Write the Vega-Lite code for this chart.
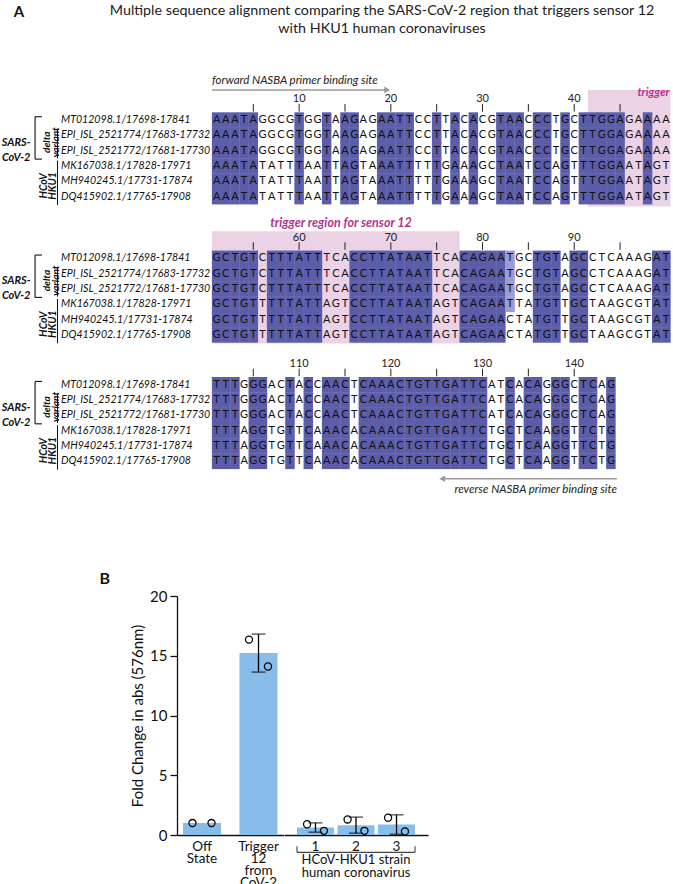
{
"$schema":"https://vega.github.io/schema/vega-lite/v6.json",
"background":"white",
"padding":{"left":1,"top":0,"right":0,"bottom":0},
"bounds":"flush",
"spacing":0,
"config":{"view":{"stroke":null},"font":"Lato"},
"datasets":{
"cells":[
{"p":1,"r":1,"n":"A"},{"p":2,"r":1,"n":"A"},{"p":3,"r":1,"n":"A"},{"p":4,"r":1,"n":"T"},{"p":5,"r":1,"n":"A"},{"p":6,"r":1,"n":"G"},{"p":7,"r":1,"n":"G"},{"p":8,"r":1,"n":"C"},{"p":9,"r":1,"n":"G"},{"p":10,"r":1,"n":"T"},
{"p":11,"r":1,"n":"G"},{"p":12,"r":1,"n":"G"},{"p":13,"r":1,"n":"T"},{"p":14,"r":1,"n":"A"},{"p":15,"r":1,"n":"A"},{"p":16,"r":1,"n":"G"},{"p":17,"r":1,"n":"A"},{"p":18,"r":1,"n":"G"},{"p":19,"r":1,"n":"A"},{"p":20,"r":1,"n":"A"},
{"p":21,"r":1,"n":"T"},{"p":22,"r":1,"n":"T"},{"p":23,"r":1,"n":"C"},{"p":24,"r":1,"n":"C"},{"p":25,"r":1,"n":"T"},{"p":26,"r":1,"n":"T"},{"p":27,"r":1,"n":"A"},{"p":28,"r":1,"n":"C"},{"p":29,"r":1,"n":"A"},{"p":30,"r":1,"n":"C"},
{"p":31,"r":1,"n":"G"},{"p":32,"r":1,"n":"T"},{"p":33,"r":1,"n":"A"},{"p":34,"r":1,"n":"A"},{"p":35,"r":1,"n":"C"},{"p":36,"r":1,"n":"C"},{"p":37,"r":1,"n":"C"},{"p":38,"r":1,"n":"T"},{"p":39,"r":1,"n":"G"},{"p":40,"r":1,"n":"C"},
{"p":41,"r":1,"n":"T"},{"p":42,"r":1,"n":"T"},{"p":43,"r":1,"n":"G"},{"p":44,"r":1,"n":"G"},{"p":45,"r":1,"n":"A"},{"p":46,"r":1,"n":"G"},{"p":47,"r":1,"n":"A"},{"p":48,"r":1,"n":"A"},{"p":49,"r":1,"n":"A"},{"p":50,"r":1,"n":"A"},
{"p":51,"r":1,"n":"G"},{"p":52,"r":1,"n":"C"},{"p":53,"r":1,"n":"T"},{"p":54,"r":1,"n":"G"},{"p":55,"r":1,"n":"T"},{"p":56,"r":1,"n":"C"},{"p":57,"r":1,"n":"T"},{"p":58,"r":1,"n":"T"},{"p":59,"r":1,"n":"T"},{"p":60,"r":1,"n":"A"},
{"p":61,"r":1,"n":"T"},{"p":62,"r":1,"n":"T"},{"p":63,"r":1,"n":"T"},{"p":64,"r":1,"n":"C"},{"p":65,"r":1,"n":"A"},{"p":66,"r":1,"n":"C"},{"p":67,"r":1,"n":"C"},{"p":68,"r":1,"n":"T"},{"p":69,"r":1,"n":"T"},{"p":70,"r":1,"n":"A"},
{"p":71,"r":1,"n":"T"},{"p":72,"r":1,"n":"A"},{"p":73,"r":1,"n":"A"},{"p":74,"r":1,"n":"T"},{"p":75,"r":1,"n":"T"},{"p":76,"r":1,"n":"C"},{"p":77,"r":1,"n":"A"},{"p":78,"r":1,"n":"C"},{"p":79,"r":1,"n":"A"},{"p":80,"r":1,"n":"G"},
{"p":81,"r":1,"n":"A"},{"p":82,"r":1,"n":"A"},{"p":83,"r":1,"n":"T"},{"p":84,"r":1,"n":"G"},{"p":85,"r":1,"n":"C"},{"p":86,"r":1,"n":"T"},{"p":87,"r":1,"n":"G"},{"p":88,"r":1,"n":"T"},{"p":89,"r":1,"n":"A"},{"p":90,"r":1,"n":"G"},
{"p":91,"r":1,"n":"C"},{"p":92,"r":1,"n":"C"},{"p":93,"r":1,"n":"T"},{"p":94,"r":1,"n":"C"},{"p":95,"r":1,"n":"A"},{"p":96,"r":1,"n":"A"},{"p":97,"r":1,"n":"A"},{"p":98,"r":1,"n":"G"},{"p":99,"r":1,"n":"A"},{"p":100,"r":1,"n":"T"},
{"p":101,"r":1,"n":"T"},{"p":102,"r":1,"n":"T"},{"p":103,"r":1,"n":"T"},{"p":104,"r":1,"n":"G"},{"p":105,"r":1,"n":"G"},{"p":106,"r":1,"n":"G"},{"p":107,"r":1,"n":"A"},{"p":108,"r":1,"n":"C"},{"p":109,"r":1,"n":"T"},{"p":110,"r":1,"n":"A"},
{"p":111,"r":1,"n":"C"},{"p":112,"r":1,"n":"C"},{"p":113,"r":1,"n":"A"},{"p":114,"r":1,"n":"A"},{"p":115,"r":1,"n":"C"},{"p":116,"r":1,"n":"T"},{"p":117,"r":1,"n":"C"},{"p":118,"r":1,"n":"A"},{"p":119,"r":1,"n":"A"},{"p":120,"r":1,"n":"A"},
{"p":121,"r":1,"n":"C"},{"p":122,"r":1,"n":"T"},{"p":123,"r":1,"n":"G"},{"p":124,"r":1,"n":"T"},{"p":125,"r":1,"n":"T"},{"p":126,"r":1,"n":"G"},{"p":127,"r":1,"n":"A"},{"p":128,"r":1,"n":"T"},{"p":129,"r":1,"n":"T"},{"p":130,"r":1,"n":"C"},
{"p":131,"r":1,"n":"A"},{"p":132,"r":1,"n":"T"},{"p":133,"r":1,"n":"C"},{"p":134,"r":1,"n":"A"},{"p":135,"r":1,"n":"C"},{"p":136,"r":1,"n":"A"},{"p":137,"r":1,"n":"G"},{"p":138,"r":1,"n":"G"},{"p":139,"r":1,"n":"G"},{"p":140,"r":1,"n":"C"},
{"p":141,"r":1,"n":"T"},{"p":142,"r":1,"n":"C"},{"p":143,"r":1,"n":"A"},{"p":144,"r":1,"n":"G"},
{"p":1,"r":2,"n":"A"},{"p":2,"r":2,"n":"A"},{"p":3,"r":2,"n":"A"},{"p":4,"r":2,"n":"T"},{"p":5,"r":2,"n":"A"},{"p":6,"r":2,"n":"G"},{"p":7,"r":2,"n":"G"},{"p":8,"r":2,"n":"C"},{"p":9,"r":2,"n":"G"},{"p":10,"r":2,"n":"T"},
{"p":11,"r":2,"n":"G"},{"p":12,"r":2,"n":"G"},{"p":13,"r":2,"n":"T"},{"p":14,"r":2,"n":"A"},{"p":15,"r":2,"n":"A"},{"p":16,"r":2,"n":"G"},{"p":17,"r":2,"n":"A"},{"p":18,"r":2,"n":"G"},{"p":19,"r":2,"n":"A"},{"p":20,"r":2,"n":"A"},
{"p":21,"r":2,"n":"T"},{"p":22,"r":2,"n":"T"},{"p":23,"r":2,"n":"C"},{"p":24,"r":2,"n":"C"},{"p":25,"r":2,"n":"T"},{"p":26,"r":2,"n":"T"},{"p":27,"r":2,"n":"A"},{"p":28,"r":2,"n":"C"},{"p":29,"r":2,"n":"A"},{"p":30,"r":2,"n":"C"},
{"p":31,"r":2,"n":"G"},{"p":32,"r":2,"n":"T"},{"p":33,"r":2,"n":"A"},{"p":34,"r":2,"n":"A"},{"p":35,"r":2,"n":"C"},{"p":36,"r":2,"n":"C"},{"p":37,"r":2,"n":"C"},{"p":38,"r":2,"n":"T"},{"p":39,"r":2,"n":"G"},{"p":40,"r":2,"n":"C"},
{"p":41,"r":2,"n":"T"},{"p":42,"r":2,"n":"T"},{"p":43,"r":2,"n":"G"},{"p":44,"r":2,"n":"G"},{"p":45,"r":2,"n":"A"},{"p":46,"r":2,"n":"G"},{"p":47,"r":2,"n":"A"},{"p":48,"r":2,"n":"A"},{"p":49,"r":2,"n":"A"},{"p":50,"r":2,"n":"A"},
{"p":51,"r":2,"n":"G"},{"p":52,"r":2,"n":"C"},{"p":53,"r":2,"n":"T"},{"p":54,"r":2,"n":"G"},{"p":55,"r":2,"n":"T"},{"p":56,"r":2,"n":"C"},{"p":57,"r":2,"n":"T"},{"p":58,"r":2,"n":"T"},{"p":59,"r":2,"n":"T"},{"p":60,"r":2,"n":"A"},
{"p":61,"r":2,"n":"T"},{"p":62,"r":2,"n":"T"},{"p":63,"r":2,"n":"T"},{"p":64,"r":2,"n":"C"},{"p":65,"r":2,"n":"A"},{"p":66,"r":2,"n":"C"},{"p":67,"r":2,"n":"C"},{"p":68,"r":2,"n":"T"},{"p":69,"r":2,"n":"T"},{"p":70,"r":2,"n":"A"},
{"p":71,"r":2,"n":"T"},{"p":72,"r":2,"n":"A"},{"p":73,"r":2,"n":"A"},{"p":74,"r":2,"n":"T"},{"p":75,"r":2,"n":"T"},{"p":76,"r":2,"n":"C"},{"p":77,"r":2,"n":"A"},{"p":78,"r":2,"n":"C"},{"p":79,"r":2,"n":"A"},{"p":80,"r":2,"n":"G"},
{"p":81,"r":2,"n":"A"},{"p":82,"r":2,"n":"A"},{"p":83,"r":2,"n":"T"},{"p":84,"r":2,"n":"G"},{"p":85,"r":2,"n":"C"},{"p":86,"r":2,"n":"T"},{"p":87,"r":2,"n":"G"},{"p":88,"r":2,"n":"T"},{"p":89,"r":2,"n":"A"},{"p":90,"r":2,"n":"G"},
{"p":91,"r":2,"n":"C"},{"p":92,"r":2,"n":"C"},{"p":93,"r":2,"n":"T"},{"p":94,"r":2,"n":"C"},{"p":95,"r":2,"n":"A"},{"p":96,"r":2,"n":"A"},{"p":97,"r":2,"n":"A"},{"p":98,"r":2,"n":"G"},{"p":99,"r":2,"n":"A"},{"p":100,"r":2,"n":"T"},
{"p":101,"r":2,"n":"T"},{"p":102,"r":2,"n":"T"},{"p":103,"r":2,"n":"T"},{"p":104,"r":2,"n":"G"},{"p":105,"r":2,"n":"G"},{"p":106,"r":2,"n":"G"},{"p":107,"r":2,"n":"A"},{"p":108,"r":2,"n":"C"},{"p":109,"r":2,"n":"T"},{"p":110,"r":2,"n":"A"},
{"p":111,"r":2,"n":"C"},{"p":112,"r":2,"n":"C"},{"p":113,"r":2,"n":"A"},{"p":114,"r":2,"n":"A"},{"p":115,"r":2,"n":"C"},{"p":116,"r":2,"n":"T"},{"p":117,"r":2,"n":"C"},{"p":118,"r":2,"n":"A"},{"p":119,"r":2,"n":"A"},{"p":120,"r":2,"n":"A"},
{"p":121,"r":2,"n":"C"},{"p":122,"r":2,"n":"T"},{"p":123,"r":2,"n":"G"},{"p":124,"r":2,"n":"T"},{"p":125,"r":2,"n":"T"},{"p":126,"r":2,"n":"G"},{"p":127,"r":2,"n":"A"},{"p":128,"r":2,"n":"T"},{"p":129,"r":2,"n":"T"},{"p":130,"r":2,"n":"C"},
{"p":131,"r":2,"n":"A"},{"p":132,"r":2,"n":"T"},{"p":133,"r":2,"n":"C"},{"p":134,"r":2,"n":"A"},{"p":135,"r":2,"n":"C"},{"p":136,"r":2,"n":"A"},{"p":137,"r":2,"n":"G"},{"p":138,"r":2,"n":"G"},{"p":139,"r":2,"n":"G"},{"p":140,"r":2,"n":"C"},
{"p":141,"r":2,"n":"T"},{"p":142,"r":2,"n":"C"},{"p":143,"r":2,"n":"A"},{"p":144,"r":2,"n":"G"},
{"p":1,"r":3,"n":"A"},{"p":2,"r":3,"n":"A"},{"p":3,"r":3,"n":"A"},{"p":4,"r":3,"n":"T"},{"p":5,"r":3,"n":"A"},{"p":6,"r":3,"n":"G"},{"p":7,"r":3,"n":"G"},{"p":8,"r":3,"n":"C"},{"p":9,"r":3,"n":"G"},{"p":10,"r":3,"n":"T"},
{"p":11,"r":3,"n":"G"},{"p":12,"r":3,"n":"G"},{"p":13,"r":3,"n":"T"},{"p":14,"r":3,"n":"A"},{"p":15,"r":3,"n":"A"},{"p":16,"r":3,"n":"G"},{"p":17,"r":3,"n":"A"},{"p":18,"r":3,"n":"G"},{"p":19,"r":3,"n":"A"},{"p":20,"r":3,"n":"A"},
{"p":21,"r":3,"n":"T"},{"p":22,"r":3,"n":"T"},{"p":23,"r":3,"n":"C"},{"p":24,"r":3,"n":"C"},{"p":25,"r":3,"n":"T"},{"p":26,"r":3,"n":"T"},{"p":27,"r":3,"n":"A"},{"p":28,"r":3,"n":"C"},{"p":29,"r":3,"n":"A"},{"p":30,"r":3,"n":"C"},
{"p":31,"r":3,"n":"G"},{"p":32,"r":3,"n":"T"},{"p":33,"r":3,"n":"A"},{"p":34,"r":3,"n":"A"},{"p":35,"r":3,"n":"C"},{"p":36,"r":3,"n":"C"},{"p":37,"r":3,"n":"C"},{"p":38,"r":3,"n":"T"},{"p":39,"r":3,"n":"G"},{"p":40,"r":3,"n":"C"},
{"p":41,"r":3,"n":"T"},{"p":42,"r":3,"n":"T"},{"p":43,"r":3,"n":"G"},{"p":44,"r":3,"n":"G"},{"p":45,"r":3,"n":"A"},{"p":46,"r":3,"n":"G"},{"p":47,"r":3,"n":"A"},{"p":48,"r":3,"n":"A"},{"p":49,"r":3,"n":"A"},{"p":50,"r":3,"n":"A"},
{"p":51,"r":3,"n":"G"},{"p":52,"r":3,"n":"C"},{"p":53,"r":3,"n":"T"},{"p":54,"r":3,"n":"G"},{"p":55,"r":3,"n":"T"},{"p":56,"r":3,"n":"C"},{"p":57,"r":3,"n":"T"},{"p":58,"r":3,"n":"T"},{"p":59,"r":3,"n":"T"},{"p":60,"r":3,"n":"A"},
{"p":61,"r":3,"n":"T"},{"p":62,"r":3,"n":"T"},{"p":63,"r":3,"n":"T"},{"p":64,"r":3,"n":"C"},{"p":65,"r":3,"n":"A"},{"p":66,"r":3,"n":"C"},{"p":67,"r":3,"n":"C"},{"p":68,"r":3,"n":"T"},{"p":69,"r":3,"n":"T"},{"p":70,"r":3,"n":"A"},
{"p":71,"r":3,"n":"T"},{"p":72,"r":3,"n":"A"},{"p":73,"r":3,"n":"A"},{"p":74,"r":3,"n":"T"},{"p":75,"r":3,"n":"T"},{"p":76,"r":3,"n":"C"},{"p":77,"r":3,"n":"A"},{"p":78,"r":3,"n":"C"},{"p":79,"r":3,"n":"A"},{"p":80,"r":3,"n":"G"},
{"p":81,"r":3,"n":"A"},{"p":82,"r":3,"n":"A"},{"p":83,"r":3,"n":"T"},{"p":84,"r":3,"n":"G"},{"p":85,"r":3,"n":"C"},{"p":86,"r":3,"n":"T"},{"p":87,"r":3,"n":"G"},{"p":88,"r":3,"n":"T"},{"p":89,"r":3,"n":"A"},{"p":90,"r":3,"n":"G"},
{"p":91,"r":3,"n":"C"},{"p":92,"r":3,"n":"C"},{"p":93,"r":3,"n":"T"},{"p":94,"r":3,"n":"C"},{"p":95,"r":3,"n":"A"},{"p":96,"r":3,"n":"A"},{"p":97,"r":3,"n":"A"},{"p":98,"r":3,"n":"G"},{"p":99,"r":3,"n":"A"},{"p":100,"r":3,"n":"T"},
{"p":101,"r":3,"n":"T"},{"p":102,"r":3,"n":"T"},{"p":103,"r":3,"n":"T"},{"p":104,"r":3,"n":"G"},{"p":105,"r":3,"n":"G"},{"p":106,"r":3,"n":"G"},{"p":107,"r":3,"n":"A"},{"p":108,"r":3,"n":"C"},{"p":109,"r":3,"n":"T"},{"p":110,"r":3,"n":"A"},
{"p":111,"r":3,"n":"C"},{"p":112,"r":3,"n":"C"},{"p":113,"r":3,"n":"A"},{"p":114,"r":3,"n":"A"},{"p":115,"r":3,"n":"C"},{"p":116,"r":3,"n":"T"},{"p":117,"r":3,"n":"C"},{"p":118,"r":3,"n":"A"},{"p":119,"r":3,"n":"A"},{"p":120,"r":3,"n":"A"},
{"p":121,"r":3,"n":"C"},{"p":122,"r":3,"n":"T"},{"p":123,"r":3,"n":"G"},{"p":124,"r":3,"n":"T"},{"p":125,"r":3,"n":"T"},{"p":126,"r":3,"n":"G"},{"p":127,"r":3,"n":"A"},{"p":128,"r":3,"n":"T"},{"p":129,"r":3,"n":"T"},{"p":130,"r":3,"n":"C"},
{"p":131,"r":3,"n":"A"},{"p":132,"r":3,"n":"T"},{"p":133,"r":3,"n":"C"},{"p":134,"r":3,"n":"A"},{"p":135,"r":3,"n":"C"},{"p":136,"r":3,"n":"A"},{"p":137,"r":3,"n":"G"},{"p":138,"r":3,"n":"G"},{"p":139,"r":3,"n":"G"},{"p":140,"r":3,"n":"C"},
{"p":141,"r":3,"n":"T"},{"p":142,"r":3,"n":"C"},{"p":143,"r":3,"n":"A"},{"p":144,"r":3,"n":"G"},
{"p":1,"r":4,"n":"A"},{"p":2,"r":4,"n":"A"},{"p":3,"r":4,"n":"A"},{"p":4,"r":4,"n":"T"},{"p":5,"r":4,"n":"A"},{"p":6,"r":4,"n":"T"},{"p":7,"r":4,"n":"A"},{"p":8,"r":4,"n":"T"},{"p":9,"r":4,"n":"T"},{"p":10,"r":4,"n":"T"},
{"p":11,"r":4,"n":"A"},{"p":12,"r":4,"n":"A"},{"p":13,"r":4,"n":"T"},{"p":14,"r":4,"n":"T"},{"p":15,"r":4,"n":"A"},{"p":16,"r":4,"n":"G"},{"p":17,"r":4,"n":"T"},{"p":18,"r":4,"n":"A"},{"p":19,"r":4,"n":"A"},{"p":20,"r":4,"n":"A"},
{"p":21,"r":4,"n":"T"},{"p":22,"r":4,"n":"T"},{"p":23,"r":4,"n":"T"},{"p":24,"r":4,"n":"T"},{"p":25,"r":4,"n":"T"},{"p":26,"r":4,"n":"G"},{"p":27,"r":4,"n":"A"},{"p":28,"r":4,"n":"A"},{"p":29,"r":4,"n":"A"},{"p":30,"r":4,"n":"G"},
{"p":31,"r":4,"n":"C"},{"p":32,"r":4,"n":"T"},{"p":33,"r":4,"n":"A"},{"p":34,"r":4,"n":"A"},{"p":35,"r":4,"n":"T"},{"p":36,"r":4,"n":"C"},{"p":37,"r":4,"n":"C"},{"p":38,"r":4,"n":"A"},{"p":39,"r":4,"n":"G"},{"p":40,"r":4,"n":"T"},
{"p":41,"r":4,"n":"T"},{"p":42,"r":4,"n":"T"},{"p":43,"r":4,"n":"G"},{"p":44,"r":4,"n":"G"},{"p":45,"r":4,"n":"A"},{"p":46,"r":4,"n":"A"},{"p":47,"r":4,"n":"T"},{"p":48,"r":4,"n":"A"},{"p":49,"r":4,"n":"G"},{"p":50,"r":4,"n":"T"},
{"p":51,"r":4,"n":"G"},{"p":52,"r":4,"n":"C"},{"p":53,"r":4,"n":"T"},{"p":54,"r":4,"n":"G"},{"p":55,"r":4,"n":"T"},{"p":56,"r":4,"n":"T"},{"p":57,"r":4,"n":"T"},{"p":58,"r":4,"n":"T"},{"p":59,"r":4,"n":"T"},{"p":60,"r":4,"n":"A"},
{"p":61,"r":4,"n":"T"},{"p":62,"r":4,"n":"T"},{"p":63,"r":4,"n":"A"},{"p":64,"r":4,"n":"G"},{"p":65,"r":4,"n":"T"},{"p":66,"r":4,"n":"C"},{"p":67,"r":4,"n":"C"},{"p":68,"r":4,"n":"T"},{"p":69,"r":4,"n":"T"},{"p":70,"r":4,"n":"A"},
{"p":71,"r":4,"n":"T"},{"p":72,"r":4,"n":"A"},{"p":73,"r":4,"n":"A"},{"p":74,"r":4,"n":"T"},{"p":75,"r":4,"n":"A"},{"p":76,"r":4,"n":"G"},{"p":77,"r":4,"n":"T"},{"p":78,"r":4,"n":"C"},{"p":79,"r":4,"n":"A"},{"p":80,"r":4,"n":"G"},
{"p":81,"r":4,"n":"A"},{"p":82,"r":4,"n":"A"},{"p":83,"r":4,"n":"T"},{"p":84,"r":4,"n":"T"},{"p":85,"r":4,"n":"A"},{"p":86,"r":4,"n":"T"},{"p":87,"r":4,"n":"G"},{"p":88,"r":4,"n":"T"},{"p":89,"r":4,"n":"T"},{"p":90,"r":4,"n":"G"},
{"p":91,"r":4,"n":"C"},{"p":92,"r":4,"n":"T"},{"p":93,"r":4,"n":"A"},{"p":94,"r":4,"n":"A"},{"p":95,"r":4,"n":"G"},{"p":96,"r":4,"n":"C"},{"p":97,"r":4,"n":"G"},{"p":98,"r":4,"n":"T"},{"p":99,"r":4,"n":"A"},{"p":100,"r":4,"n":"T"},
{"p":101,"r":4,"n":"T"},{"p":102,"r":4,"n":"T"},{"p":103,"r":4,"n":"T"},{"p":104,"r":4,"n":"A"},{"p":105,"r":4,"n":"G"},{"p":106,"r":4,"n":"G"},{"p":107,"r":4,"n":"T"},{"p":108,"r":4,"n":"G"},{"p":109,"r":4,"n":"T"},{"p":110,"r":4,"n":"T"},
{"p":111,"r":4,"n":"C"},{"p":112,"r":4,"n":"A"},{"p":113,"r":4,"n":"A"},{"p":114,"r":4,"n":"A"},{"p":115,"r":4,"n":"C"},{"p":116,"r":4,"n":"A"},{"p":117,"r":4,"n":"C"},{"p":118,"r":4,"n":"A"},{"p":119,"r":4,"n":"A"},{"p":120,"r":4,"n":"A"},
{"p":121,"r":4,"n":"C"},{"p":122,"r":4,"n":"T"},{"p":123,"r":4,"n":"G"},{"p":124,"r":4,"n":"T"},{"p":125,"r":4,"n":"T"},{"p":126,"r":4,"n":"G"},{"p":127,"r":4,"n":"A"},{"p":128,"r":4,"n":"T"},{"p":129,"r":4,"n":"T"},{"p":130,"r":4,"n":"C"},
{"p":131,"r":4,"n":"T"},{"p":132,"r":4,"n":"G"},{"p":133,"r":4,"n":"C"},{"p":134,"r":4,"n":"T"},{"p":135,"r":4,"n":"C"},{"p":136,"r":4,"n":"A"},{"p":137,"r":4,"n":"A"},{"p":138,"r":4,"n":"G"},{"p":139,"r":4,"n":"G"},{"p":140,"r":4,"n":"T"},
{"p":141,"r":4,"n":"T"},{"p":142,"r":4,"n":"C"},{"p":143,"r":4,"n":"T"},{"p":144,"r":4,"n":"G"},
{"p":1,"r":5,"n":"A"},{"p":2,"r":5,"n":"A"},{"p":3,"r":5,"n":"A"},{"p":4,"r":5,"n":"T"},{"p":5,"r":5,"n":"A"},{"p":6,"r":5,"n":"T"},{"p":7,"r":5,"n":"A"},{"p":8,"r":5,"n":"T"},{"p":9,"r":5,"n":"T"},{"p":10,"r":5,"n":"T"},
{"p":11,"r":5,"n":"A"},{"p":12,"r":5,"n":"A"},{"p":13,"r":5,"n":"T"},{"p":14,"r":5,"n":"T"},{"p":15,"r":5,"n":"A"},{"p":16,"r":5,"n":"G"},{"p":17,"r":5,"n":"T"},{"p":18,"r":5,"n":"A"},{"p":19,"r":5,"n":"A"},{"p":20,"r":5,"n":"A"},
{"p":21,"r":5,"n":"T"},{"p":22,"r":5,"n":"T"},{"p":23,"r":5,"n":"T"},{"p":24,"r":5,"n":"T"},{"p":25,"r":5,"n":"T"},{"p":26,"r":5,"n":"G"},{"p":27,"r":5,"n":"A"},{"p":28,"r":5,"n":"A"},{"p":29,"r":5,"n":"A"},{"p":30,"r":5,"n":"G"},
{"p":31,"r":5,"n":"C"},{"p":32,"r":5,"n":"T"},{"p":33,"r":5,"n":"A"},{"p":34,"r":5,"n":"A"},{"p":35,"r":5,"n":"T"},{"p":36,"r":5,"n":"C"},{"p":37,"r":5,"n":"C"},{"p":38,"r":5,"n":"A"},{"p":39,"r":5,"n":"G"},{"p":40,"r":5,"n":"T"},
{"p":41,"r":5,"n":"T"},{"p":42,"r":5,"n":"T"},{"p":43,"r":5,"n":"G"},{"p":44,"r":5,"n":"G"},{"p":45,"r":5,"n":"A"},{"p":46,"r":5,"n":"A"},{"p":47,"r":5,"n":"T"},{"p":48,"r":5,"n":"A"},{"p":49,"r":5,"n":"G"},{"p":50,"r":5,"n":"T"},
{"p":51,"r":5,"n":"G"},{"p":52,"r":5,"n":"C"},{"p":53,"r":5,"n":"T"},{"p":54,"r":5,"n":"G"},{"p":55,"r":5,"n":"T"},{"p":56,"r":5,"n":"T"},{"p":57,"r":5,"n":"T"},{"p":58,"r":5,"n":"T"},{"p":59,"r":5,"n":"T"},{"p":60,"r":5,"n":"A"},
{"p":61,"r":5,"n":"T"},{"p":62,"r":5,"n":"T"},{"p":63,"r":5,"n":"A"},{"p":64,"r":5,"n":"G"},{"p":65,"r":5,"n":"T"},{"p":66,"r":5,"n":"C"},{"p":67,"r":5,"n":"C"},{"p":68,"r":5,"n":"T"},{"p":69,"r":5,"n":"T"},{"p":70,"r":5,"n":"A"},
{"p":71,"r":5,"n":"T"},{"p":72,"r":5,"n":"A"},{"p":73,"r":5,"n":"A"},{"p":74,"r":5,"n":"T"},{"p":75,"r":5,"n":"A"},{"p":76,"r":5,"n":"G"},{"p":77,"r":5,"n":"T"},{"p":78,"r":5,"n":"C"},{"p":79,"r":5,"n":"A"},{"p":80,"r":5,"n":"G"},
{"p":81,"r":5,"n":"A"},{"p":82,"r":5,"n":"A"},{"p":83,"r":5,"n":"C"},{"p":84,"r":5,"n":"T"},{"p":85,"r":5,"n":"A"},{"p":86,"r":5,"n":"T"},{"p":87,"r":5,"n":"G"},{"p":88,"r":5,"n":"T"},{"p":89,"r":5,"n":"T"},{"p":90,"r":5,"n":"G"},
{"p":91,"r":5,"n":"C"},{"p":92,"r":5,"n":"T"},{"p":93,"r":5,"n":"A"},{"p":94,"r":5,"n":"A"},{"p":95,"r":5,"n":"G"},{"p":96,"r":5,"n":"C"},{"p":97,"r":5,"n":"G"},{"p":98,"r":5,"n":"T"},{"p":99,"r":5,"n":"A"},{"p":100,"r":5,"n":"T"},
{"p":101,"r":5,"n":"T"},{"p":102,"r":5,"n":"T"},{"p":103,"r":5,"n":"T"},{"p":104,"r":5,"n":"A"},{"p":105,"r":5,"n":"G"},{"p":106,"r":5,"n":"G"},{"p":107,"r":5,"n":"T"},{"p":108,"r":5,"n":"G"},{"p":109,"r":5,"n":"T"},{"p":110,"r":5,"n":"T"},
{"p":111,"r":5,"n":"C"},{"p":112,"r":5,"n":"A"},{"p":113,"r":5,"n":"A"},{"p":114,"r":5,"n":"A"},{"p":115,"r":5,"n":"C"},{"p":116,"r":5,"n":"A"},{"p":117,"r":5,"n":"C"},{"p":118,"r":5,"n":"A"},{"p":119,"r":5,"n":"A"},{"p":120,"r":5,"n":"A"},
{"p":121,"r":5,"n":"C"},{"p":122,"r":5,"n":"T"},{"p":123,"r":5,"n":"G"},{"p":124,"r":5,"n":"T"},{"p":125,"r":5,"n":"T"},{"p":126,"r":5,"n":"G"},{"p":127,"r":5,"n":"A"},{"p":128,"r":5,"n":"T"},{"p":129,"r":5,"n":"T"},{"p":130,"r":5,"n":"C"},
{"p":131,"r":5,"n":"T"},{"p":132,"r":5,"n":"G"},{"p":133,"r":5,"n":"C"},{"p":134,"r":5,"n":"T"},{"p":135,"r":5,"n":"C"},{"p":136,"r":5,"n":"A"},{"p":137,"r":5,"n":"A"},{"p":138,"r":5,"n":"G"},{"p":139,"r":5,"n":"G"},{"p":140,"r":5,"n":"T"},
{"p":141,"r":5,"n":"T"},{"p":142,"r":5,"n":"C"},{"p":143,"r":5,"n":"T"},{"p":144,"r":5,"n":"G"},
{"p":1,"r":6,"n":"A"},{"p":2,"r":6,"n":"A"},{"p":3,"r":6,"n":"A"},{"p":4,"r":6,"n":"T"},{"p":5,"r":6,"n":"A"},{"p":6,"r":6,"n":"T"},{"p":7,"r":6,"n":"A"},{"p":8,"r":6,"n":"T"},{"p":9,"r":6,"n":"T"},{"p":10,"r":6,"n":"T"},
{"p":11,"r":6,"n":"A"},{"p":12,"r":6,"n":"A"},{"p":13,"r":6,"n":"T"},{"p":14,"r":6,"n":"T"},{"p":15,"r":6,"n":"A"},{"p":16,"r":6,"n":"G"},{"p":17,"r":6,"n":"T"},{"p":18,"r":6,"n":"A"},{"p":19,"r":6,"n":"A"},{"p":20,"r":6,"n":"A"},
{"p":21,"r":6,"n":"T"},{"p":22,"r":6,"n":"T"},{"p":23,"r":6,"n":"T"},{"p":24,"r":6,"n":"T"},{"p":25,"r":6,"n":"T"},{"p":26,"r":6,"n":"G"},{"p":27,"r":6,"n":"A"},{"p":28,"r":6,"n":"A"},{"p":29,"r":6,"n":"A"},{"p":30,"r":6,"n":"G"},
{"p":31,"r":6,"n":"C"},{"p":32,"r":6,"n":"T"},{"p":33,"r":6,"n":"A"},{"p":34,"r":6,"n":"A"},{"p":35,"r":6,"n":"T"},{"p":36,"r":6,"n":"C"},{"p":37,"r":6,"n":"C"},{"p":38,"r":6,"n":"A"},{"p":39,"r":6,"n":"G"},{"p":40,"r":6,"n":"T"},
{"p":41,"r":6,"n":"T"},{"p":42,"r":6,"n":"T"},{"p":43,"r":6,"n":"G"},{"p":44,"r":6,"n":"G"},{"p":45,"r":6,"n":"A"},{"p":46,"r":6,"n":"A"},{"p":47,"r":6,"n":"T"},{"p":48,"r":6,"n":"A"},{"p":49,"r":6,"n":"G"},{"p":50,"r":6,"n":"T"},
{"p":51,"r":6,"n":"G"},{"p":52,"r":6,"n":"C"},{"p":53,"r":6,"n":"T"},{"p":54,"r":6,"n":"G"},{"p":55,"r":6,"n":"T"},{"p":56,"r":6,"n":"T"},{"p":57,"r":6,"n":"T"},{"p":58,"r":6,"n":"T"},{"p":59,"r":6,"n":"T"},{"p":60,"r":6,"n":"A"},
{"p":61,"r":6,"n":"T"},{"p":62,"r":6,"n":"T"},{"p":63,"r":6,"n":"A"},{"p":64,"r":6,"n":"G"},{"p":65,"r":6,"n":"T"},{"p":66,"r":6,"n":"C"},{"p":67,"r":6,"n":"C"},{"p":68,"r":6,"n":"T"},{"p":69,"r":6,"n":"T"},{"p":70,"r":6,"n":"A"},
{"p":71,"r":6,"n":"T"},{"p":72,"r":6,"n":"A"},{"p":73,"r":6,"n":"A"},{"p":74,"r":6,"n":"T"},{"p":75,"r":6,"n":"A"},{"p":76,"r":6,"n":"G"},{"p":77,"r":6,"n":"T"},{"p":78,"r":6,"n":"C"},{"p":79,"r":6,"n":"A"},{"p":80,"r":6,"n":"G"},
{"p":81,"r":6,"n":"A"},{"p":82,"r":6,"n":"A"},{"p":83,"r":6,"n":"C"},{"p":84,"r":6,"n":"T"},{"p":85,"r":6,"n":"A"},{"p":86,"r":6,"n":"T"},{"p":87,"r":6,"n":"G"},{"p":88,"r":6,"n":"T"},{"p":89,"r":6,"n":"T"},{"p":90,"r":6,"n":"G"},
{"p":91,"r":6,"n":"C"},{"p":92,"r":6,"n":"T"},{"p":93,"r":6,"n":"A"},{"p":94,"r":6,"n":"A"},{"p":95,"r":6,"n":"G"},{"p":96,"r":6,"n":"C"},{"p":97,"r":6,"n":"G"},{"p":98,"r":6,"n":"T"},{"p":99,"r":6,"n":"A"},{"p":100,"r":6,"n":"T"},
{"p":101,"r":6,"n":"T"},{"p":102,"r":6,"n":"T"},{"p":103,"r":6,"n":"T"},{"p":104,"r":6,"n":"A"},{"p":105,"r":6,"n":"G"},{"p":106,"r":6,"n":"G"},{"p":107,"r":6,"n":"T"},{"p":108,"r":6,"n":"G"},{"p":109,"r":6,"n":"T"},{"p":110,"r":6,"n":"T"},
{"p":111,"r":6,"n":"C"},{"p":112,"r":6,"n":"A"},{"p":113,"r":6,"n":"A"},{"p":114,"r":6,"n":"A"},{"p":115,"r":6,"n":"C"},{"p":116,"r":6,"n":"A"},{"p":117,"r":6,"n":"C"},{"p":118,"r":6,"n":"A"},{"p":119,"r":6,"n":"A"},{"p":120,"r":6,"n":"A"},
{"p":121,"r":6,"n":"C"},{"p":122,"r":6,"n":"T"},{"p":123,"r":6,"n":"G"},{"p":124,"r":6,"n":"T"},{"p":125,"r":6,"n":"T"},{"p":126,"r":6,"n":"G"},{"p":127,"r":6,"n":"A"},{"p":128,"r":6,"n":"T"},{"p":129,"r":6,"n":"T"},{"p":130,"r":6,"n":"C"},
{"p":131,"r":6,"n":"T"},{"p":132,"r":6,"n":"G"},{"p":133,"r":6,"n":"C"},{"p":134,"r":6,"n":"T"},{"p":135,"r":6,"n":"C"},{"p":136,"r":6,"n":"A"},{"p":137,"r":6,"n":"A"},{"p":138,"r":6,"n":"G"},{"p":139,"r":6,"n":"G"},{"p":140,"r":6,"n":"T"},
{"p":141,"r":6,"n":"T"},{"p":142,"r":6,"n":"C"},{"p":143,"r":6,"n":"T"},{"p":144,"r":6,"n":"G"}
],
"ticks":[{"p":5},{"p":10},{"p":15},{"p":20},{"p":25},{"p":30},{"p":35},{"p":40},{"p":45},{"p":55},{"p":60},{"p":65},{"p":70},{"p":75},{"p":80},{"p":85},{"p":90},{"p":95},{"p":105},{"p":110},{"p":115},{"p":120},{"p":125},{"p":130},{"p":135},{"p":140}],
"names":[{"r":1,"name":"MT012098.1/17698-17841"},{"r":2,"name":"EPI_ISL_2521774/17683-17732"},{"r":3,"name":"EPI_ISL_2521772/17681-17730"},{"r":4,"name":"MK167038.1/17828-17971"},{"r":5,"name":"MH940245.1/17731-17874"},{"r":6,"name":"DQ415902.1/17765-17908"}],
"fold":[{"g":"Off State","rep":"a","v":1.0},{"g":"Off State","rep":"b","v":1.0},{"g":"Trigger 12 from CoV-2","rep":"a","v":16.35},{"g":"Trigger 12 from CoV-2","rep":"b","v":14.1},{"g":"1","rep":"a","v":0.9},{"g":"1","rep":"b","v":0.35},{"g":"2","rep":"a","v":1.3},{"g":"2","rep":"b","v":0.35},{"g":"3","rep":"a","v":1.45},{"g":"3","rep":"b","v":0.3}]
},
"vconcat":[
{"width":493.5,"height":209.61,
"layer":[
{"data":{"values":[{}]},"mark":{"type":"rect","color":"#ebd3e5"},"encoding":{"x":{"datum":41.5,"type":"quantitative","scale":{"domain":[-3.32,50.5],"nice":false,"zero":false},"axis":null},"x2":{"datum":50.5},"y":{"datum":-0.97,"type":"quantitative","scale":{"domain":[-6.85,6.85],"nice":false,"zero":false,"reverse":true},"axis":null},"y2":{"datum":6.65}}},
{"data":{"name":"cells"},"transform":[{"filter":"datum.p >= 1 && datum.p <= 50"},{"joinaggregate":[{"op":"distinct","field":"n","as":"nd"}],"groupby":["p"]},{"joinaggregate":[{"op":"count","as":"cnt"}],"groupby":["p","n"]},{"filter":"datum.nd == 1 || datum.cnt >= 4"}],"mark":{"type":"tick","orient":"horizontal","size":9.5,"thickness":15.6,"opacity":1},"encoding":{"x":{"field":"p","type":"quantitative","axis":null},"y":{"field":"r","type":"quantitative","axis":null},"color":{"condition":{"test":"datum.nd == 1","value":"#5c5da9"},"value":"#9c9cd2"}}},
{"data":{"name":"cells"},"transform":[{"filter":"datum.p >= 1 && datum.p <= 50"}],"mark":{"type":"text","font":"Lato","fontSize":11,"color":"#111","baseline":"middle"},"encoding":{"x":{"field":"p","type":"quantitative","axis":null},"y":{"field":"r","type":"quantitative","axis":null},"text":{"field":"n","type":"nominal"}}},
{"data":{"name":"ticks"},"transform":[{"filter":"datum.p >= 1 && datum.p <= 50"}],"mark":{"type":"rule","color":"#222","strokeWidth":1},"encoding":{"x":{"field":"p","type":"quantitative","axis":null},"y":{"datum":-0.05,"axis":null},"y2":{"datum":0.44}}},
{"data":{"name":"ticks"},"transform":[{"filter":"datum.p >= 1 && datum.p <= 50 && datum.p % 10 == 0"}],"mark":{"type":"text","font":"Lato","fontSize":11,"color":"#222","baseline":"middle"},"encoding":{"x":{"field":"p","type":"quantitative","axis":null},"y":{"datum":-0.36,"axis":null},"text":{"field":"p","type":"nominal"}}},
{"data":{"name":"names"},"mark":{"type":"text","font":"Lato","fontStyle":"italic","fontSize":10.6,"align":"left","baseline":"middle","color":"#111"},"encoding":{"x":{"datum":-15.97,"axis":null},"y":{"field":"r","type":"quantitative","axis":null},"text":{"field":"name","type":"nominal"}}},
{"data":{"values":[{}]},"mark":{"type":"text","text":["SARS-","CoV-2"],"font":"Lato","fontStyle":"italic","fontWeight":"bold","fontSize":11,"lineHeight":15,"align":"right","baseline":"middle","color":"#111"},"encoding":{"x":{"datum":-19.3,"axis":null},"y":{"datum":2.5,"axis":null}}},
{"data":{"values":[{}]},"mark":{"type":"text","text":["delta","variant"],"angle":270,"font":"Lato","fontStyle":"italic","fontWeight":"bold","fontSize":10,"lineHeight":9,"align":"center","baseline":"middle","color":"#111"},"encoding":{"x":{"datum":-17.45,"axis":null},"y":{"datum":2.45,"axis":null}}},
{"data":{"values":[{}]},"mark":{"type":"text","text":["HCoV","HKU1"],"angle":270,"font":"Lato","fontStyle":"italic","fontWeight":"bold","fontSize":10.5,"lineHeight":9,"align":"center","baseline":"middle","color":"#111"},"encoding":{"x":{"datum":-17.8,"axis":null},"y":{"datum":5.3,"axis":null}}},
{"data":{"values":[{}]},"mark":{"type":"rule","color":"#111","strokeWidth":1.1},"encoding":{"x":{"datum":-18.8,"axis":null},"y":{"datum":0.78,"axis":null},"y2":{"datum":3.55}}},
{"data":{"values":[{}]},"mark":{"type":"rule","color":"#111","strokeWidth":1.1},"encoding":{"x":{"datum":-18.8,"axis":null},"x2":{"datum":-18.05},"y":{"datum":0.78,"axis":null}}},
{"data":{"values":[{}]},"mark":{"type":"rule","color":"#111","strokeWidth":1.1},"encoding":{"x":{"datum":-18.8,"axis":null},"x2":{"datum":-18.05},"y":{"datum":3.55,"axis":null}}},
{"data":{"values":[{}]},"mark":{"type":"rule","color":"#111","strokeWidth":1},"encoding":{"x":{"datum":-16.35,"axis":null},"y":{"datum":1.55,"axis":null},"y2":{"datum":3.5}}},
{"data":{"values":[{}]},"mark":{"type":"rule","color":"#111","strokeWidth":1},"encoding":{"x":{"datum":-16.35,"axis":null},"y":{"datum":3.65,"axis":null},"y2":{"datum":6.55}}},
{"data":{"values":[{}]},"mark":{"type":"text","text":"A","font":"Lato","fontWeight":"bold","fontSize":15,"align":"center","baseline":"middle","color":"#111"},"encoding":{"x":{"datum":-20.55,"axis":null},"y":{"datum":-6.07,"axis":null}}},
{"data":{"values":[{}]},"mark":{"type":"text","text":["Multiple sequence alignment comparing the SARS-CoV-2 region that triggers sensor 12","with HKU1 human coronaviruses"],"font":"Lato","fontSize":14.3,"lineHeight":18,"align":"center","baseline":"top","color":"#222"},"encoding":{"x":{"datum":19.04,"axis":null},"y":{"datum":-6.6,"axis":null}}},
{"data":{"values":[{}]},"mark":{"type":"text","text":"forward  NASBA primer binding site","font":"Lato","fontStyle":"italic","fontSize":11.5,"align":"left","baseline":"middle","color":"#222"},"encoding":{"x":{"datum":0.5,"axis":null},"y":{"datum":-1.55,"axis":null}}},
{"data":{"values":[{}]},"mark":{"type":"rule","color":"#9a9a9a","strokeWidth":1.6},"encoding":{"x":{"datum":0.5,"axis":null},"x2":{"datum":19.4},"y":{"datum":-0.97,"axis":null}}},
{"data":{"values":[{}]},"mark":{"type":"point","shape":"triangle-right","filled":true,"color":"#9a9a9a","size":45,"opacity":1},"encoding":{"x":{"datum":19.6,"axis":null},"y":{"datum":-0.97,"axis":null}}},
{"data":{"values":[{}]},"mark":{"type":"text","text":"trigger","font":"Lato","fontStyle":"italic","fontWeight":"bold","fontSize":11.5,"align":"right","baseline":"middle","color":"#b5338f"},"encoding":{"x":{"datum":50.4,"axis":null},"y":{"datum":-0.77,"axis":null}}}
]},
{"width":493.5,"height":135.6,
"layer":[
{"data":{"values":[{}]},"mark":{"type":"rect","color":"#ebd3e5"},"encoding":{"x":{"datum":50.5,"type":"quantitative","scale":{"domain":[46.68,100.5],"nice":false,"zero":false},"axis":null},"x2":{"datum":77.5},"y":{"datum":-0.77,"type":"quantitative","scale":{"domain":[-2.163,6.7],"nice":false,"zero":false,"reverse":true},"axis":null},"y2":{"datum":6.56}}},
{"data":{"name":"cells"},"transform":[{"filter":"datum.p >= 51 && datum.p <= 100"},{"joinaggregate":[{"op":"distinct","field":"n","as":"nd"}],"groupby":["p"]},{"joinaggregate":[{"op":"count","as":"cnt"}],"groupby":["p","n"]},{"filter":"datum.nd == 1 || datum.cnt >= 4"}],"mark":{"type":"tick","orient":"horizontal","size":9.5,"thickness":15.6,"opacity":1},"encoding":{"x":{"field":"p","type":"quantitative","axis":null},"y":{"field":"r","type":"quantitative","axis":null},"color":{"condition":{"test":"datum.nd == 1","value":"#5c5da9"},"value":"#9c9cd2"}}},
{"data":{"name":"cells"},"transform":[{"filter":"datum.p >= 51 && datum.p <= 100"}],"mark":{"type":"text","font":"Lato","fontSize":11,"color":"#111","baseline":"middle"},"encoding":{"x":{"field":"p","type":"quantitative","axis":null},"y":{"field":"r","type":"quantitative","axis":null},"text":{"field":"n","type":"nominal"}}},
{"data":{"name":"ticks"},"transform":[{"filter":"datum.p >= 51 && datum.p <= 100"}],"mark":{"type":"rule","color":"#222","strokeWidth":1},"encoding":{"x":{"field":"p","type":"quantitative","axis":null},"y":{"datum":-0.05,"axis":null},"y2":{"datum":0.44}}},
{"data":{"name":"ticks"},"transform":[{"filter":"datum.p >= 51 && datum.p <= 100 && datum.p % 10 == 0"}],"mark":{"type":"text","font":"Lato","fontSize":11,"color":"#222","baseline":"middle"},"encoding":{"x":{"field":"p","type":"quantitative","axis":null},"y":{"datum":-0.36,"axis":null},"text":{"field":"p","type":"nominal"}}},
{"data":{"name":"names"},"mark":{"type":"text","font":"Lato","fontStyle":"italic","fontSize":10.6,"align":"left","baseline":"middle","color":"#111"},"encoding":{"x":{"datum":34.03,"axis":null},"y":{"field":"r","type":"quantitative","axis":null},"text":{"field":"name","type":"nominal"}}},
{"data":{"values":[{}]},"mark":{"type":"text","text":["SARS-","CoV-2"],"font":"Lato","fontStyle":"italic","fontWeight":"bold","fontSize":11,"lineHeight":15,"align":"right","baseline":"middle","color":"#111"},"encoding":{"x":{"datum":30.7,"axis":null},"y":{"datum":2.5,"axis":null}}},
{"data":{"values":[{}]},"mark":{"type":"text","text":["delta","variant"],"angle":270,"font":"Lato","fontStyle":"italic","fontWeight":"bold","fontSize":10,"lineHeight":9,"align":"center","baseline":"middle","color":"#111"},"encoding":{"x":{"datum":32.55,"axis":null},"y":{"datum":2.45,"axis":null}}},
{"data":{"values":[{}]},"mark":{"type":"text","text":["HCoV","HKU1"],"angle":270,"font":"Lato","fontStyle":"italic","fontWeight":"bold","fontSize":10.5,"lineHeight":9,"align":"center","baseline":"middle","color":"#111"},"encoding":{"x":{"datum":32.2,"axis":null},"y":{"datum":5.3,"axis":null}}},
{"data":{"values":[{}]},"mark":{"type":"rule","color":"#111","strokeWidth":1.1},"encoding":{"x":{"datum":31.2,"axis":null},"y":{"datum":0.78,"axis":null},"y2":{"datum":3.55}}},
{"data":{"values":[{}]},"mark":{"type":"rule","color":"#111","strokeWidth":1.1},"encoding":{"x":{"datum":31.2,"axis":null},"x2":{"datum":31.95},"y":{"datum":0.78,"axis":null}}},
{"data":{"values":[{}]},"mark":{"type":"rule","color":"#111","strokeWidth":1.1},"encoding":{"x":{"datum":31.2,"axis":null},"x2":{"datum":31.95},"y":{"datum":3.55,"axis":null}}},
{"data":{"values":[{}]},"mark":{"type":"rule","color":"#111","strokeWidth":1},"encoding":{"x":{"datum":33.65,"axis":null},"y":{"datum":1.55,"axis":null},"y2":{"datum":3.5}}},
{"data":{"values":[{}]},"mark":{"type":"rule","color":"#111","strokeWidth":1},"encoding":{"x":{"datum":33.65,"axis":null},"y":{"datum":3.65,"axis":null},"y2":{"datum":6.55}}},
{"data":{"values":[{}]},"mark":{"type":"text","text":"trigger region for sensor 12","font":"Lato","fontStyle":"italic","fontWeight":"bold","fontSize":12.5,"align":"center","baseline":"middle","color":"#b5338f"},"encoding":{"x":{"datum":64.57,"axis":null},"y":{"datum":-1.29,"axis":null}}}
]},
{"width":493.5,"height":249.8,
"layer":[
{"data":{"name":"cells"},"transform":[{"filter":"datum.p >= 101 && datum.p <= 150"},{"joinaggregate":[{"op":"distinct","field":"n","as":"nd"}],"groupby":["p"]},{"joinaggregate":[{"op":"count","as":"cnt"}],"groupby":["p","n"]},{"filter":"datum.nd == 1 || datum.cnt >= 4"}],"mark":{"type":"tick","orient":"horizontal","size":9.5,"thickness":15.6,"opacity":1},"encoding":{"x":{"field":"p","type":"quantitative","scale":{"domain":[96.68,150.5],"nice":false,"zero":false},"axis":null},"y":{"field":"r","type":"quantitative","scale":{"domain":[-1.536,14.79],"nice":false,"zero":false,"reverse":true},"axis":null},"color":{"condition":{"test":"datum.nd == 1","value":"#5c5da9"},"value":"#9c9cd2"}}},
{"data":{"name":"cells"},"transform":[{"filter":"datum.p >= 101 && datum.p <= 150"}],"mark":{"type":"text","font":"Lato","fontSize":11,"color":"#111","baseline":"middle"},"encoding":{"x":{"field":"p","type":"quantitative","axis":null},"y":{"field":"r","type":"quantitative","axis":null},"text":{"field":"n","type":"nominal"}}},
{"data":{"name":"ticks"},"transform":[{"filter":"datum.p >= 101 && datum.p <= 150"}],"mark":{"type":"rule","color":"#222","strokeWidth":1},"encoding":{"x":{"field":"p","type":"quantitative","axis":null},"y":{"datum":-0.05,"axis":null},"y2":{"datum":0.44}}},
{"data":{"name":"ticks"},"transform":[{"filter":"datum.p >= 101 && datum.p <= 150 && datum.p % 10 == 0"}],"mark":{"type":"text","font":"Lato","fontSize":11,"color":"#222","baseline":"middle"},"encoding":{"x":{"field":"p","type":"quantitative","axis":null},"y":{"datum":-0.36,"axis":null},"text":{"field":"p","type":"nominal"}}},
{"data":{"name":"names"},"mark":{"type":"text","font":"Lato","fontStyle":"italic","fontSize":10.6,"align":"left","baseline":"middle","color":"#111"},"encoding":{"x":{"datum":84.03,"axis":null},"y":{"field":"r","type":"quantitative","axis":null},"text":{"field":"name","type":"nominal"}}},
{"data":{"values":[{}]},"mark":{"type":"text","text":["SARS-","CoV-2"],"font":"Lato","fontStyle":"italic","fontWeight":"bold","fontSize":11,"lineHeight":15,"align":"right","baseline":"middle","color":"#111"},"encoding":{"x":{"datum":80.7,"axis":null},"y":{"datum":2.5,"axis":null}}},
{"data":{"values":[{}]},"mark":{"type":"text","text":["delta","variant"],"angle":270,"font":"Lato","fontStyle":"italic","fontWeight":"bold","fontSize":10,"lineHeight":9,"align":"center","baseline":"middle","color":"#111"},"encoding":{"x":{"datum":82.55,"axis":null},"y":{"datum":2.45,"axis":null}}},
{"data":{"values":[{}]},"mark":{"type":"text","text":["HCoV","HKU1"],"angle":270,"font":"Lato","fontStyle":"italic","fontWeight":"bold","fontSize":10.5,"lineHeight":9,"align":"center","baseline":"middle","color":"#111"},"encoding":{"x":{"datum":82.2,"axis":null},"y":{"datum":5.3,"axis":null}}},
{"data":{"values":[{}]},"mark":{"type":"rule","color":"#111","strokeWidth":1.1},"encoding":{"x":{"datum":81.2,"axis":null},"y":{"datum":0.78,"axis":null},"y2":{"datum":3.55}}},
{"data":{"values":[{}]},"mark":{"type":"rule","color":"#111","strokeWidth":1.1},"encoding":{"x":{"datum":81.2,"axis":null},"x2":{"datum":81.95},"y":{"datum":0.78,"axis":null}}},
{"data":{"values":[{}]},"mark":{"type":"rule","color":"#111","strokeWidth":1.1},"encoding":{"x":{"datum":81.2,"axis":null},"x2":{"datum":81.95},"y":{"datum":3.55,"axis":null}}},
{"data":{"values":[{}]},"mark":{"type":"rule","color":"#111","strokeWidth":1},"encoding":{"x":{"datum":83.65,"axis":null},"y":{"datum":1.55,"axis":null},"y2":{"datum":3.5}}},
{"data":{"values":[{}]},"mark":{"type":"rule","color":"#111","strokeWidth":1},"encoding":{"x":{"datum":83.65,"axis":null},"y":{"datum":3.65,"axis":null},"y2":{"datum":6.55}}},
{"data":{"values":[{}]},"mark":{"type":"rule","color":"#9a9a9a","strokeWidth":1.6},"encoding":{"x":{"datum":125.8,"axis":null},"x2":{"datum":144.66},"y":{"datum":7.14,"axis":null}}},
{"data":{"values":[{}]},"mark":{"type":"point","shape":"triangle-left","filled":true,"color":"#9a9a9a","size":45,"opacity":1},"encoding":{"x":{"datum":125.6,"axis":null},"y":{"datum":7.14,"axis":null}}},
{"data":{"values":[{}]},"mark":{"type":"text","text":"reverse NASBA primer binding site","font":"Lato","fontStyle":"italic","fontSize":11.5,"align":"right","baseline":"middle","color":"#222"},"encoding":{"x":{"datum":144.66,"axis":null},"y":{"datum":7.86,"axis":null}}}
]},
{"hconcat":[
{"width":106.5,"height":239,
"title":{"text":"B","anchor":"start","dx":-31,"fontSize":16,"fontWeight":"bold","font":"Lato","offset":2,"color":"#111"},
"resolve":{"scale":{"xOffset":"independent"}},
"layer":[
{"data":{"name":"fold"},"transform":[{"filter":"datum.g == 'Off State' || datum.g == 'Trigger 12 from CoV-2'"}],"mark":{"type":"bar","color":"#87bde8"},"encoding":{"x":{"field":"g","type":"nominal","title":null,"scale":{"domain":["Off State","Trigger 12 from CoV-2"],"paddingInner":0.327,"paddingOuter":0.106},"axis":{"labelAngle":0,"labelExpr":"split(datum.label, ' ')","labelFont":"Lato","labelFontSize":13.5,"labelLineHeight":12,"labelColor":"#111","domainColor":"#111","domainWidth":1.3,"ticks":false,"tickSize":0,"labelPadding":4}},"y":{"aggregate":"mean","field":"v","type":"quantitative","title":"Fold Change in abs (576nm)","scale":{"domain":[0,20],"nice":false},"axis":{"values":[0,5,10,15,20],"labelFont":"Lato","labelFontSize":15,"labelColor":"#111","titleFont":"Lato","titleFontSize":15,"titleFontWeight":"normal","titleColor":"#111","domainColor":"#111","domainWidth":1.3,"tickColor":"#111","tickWidth":1.3,"tickSize":7,"labelPadding":3,"titlePadding":4,"grid":false}}}},
{"data":{"name":"fold"},"transform":[{"filter":"datum.g == 'Trigger 12 from CoV-2'"}],"mark":{"type":"errorbar","extent":"stdev","ticks":true,"color":"black","thickness":1.3,"size":14},"encoding":{"x":{"field":"g","type":"nominal","title":null},"y":{"field":"v","type":"quantitative","title":"Fold Change in abs (576nm)"}}},
{"data":{"name":"fold"},"transform":[{"filter":"datum.g == 'Off State' || datum.g == 'Trigger 12 from CoV-2'"}],"mark":{"type":"point","filled":false,"color":"black","size":50,"strokeWidth":1.3,"opacity":1},"encoding":{"x":{"field":"g","type":"nominal","title":null},"xOffset":{"field":"rep","type":"nominal","scale":{"paddingOuter":0.5}},"y":{"field":"v","type":"quantitative","title":"Fold Change in abs (576nm)"}}}
]},
{"width":144,"height":239,
"resolve":{"scale":{"xOffset":"independent"}},
"layer":[
{"data":{"name":"fold"},"transform":[{"filter":"datum.g == '1' || datum.g == '2' || datum.g == '3'"}],"mark":{"type":"bar","color":"#87bde8"},"encoding":{"x":{"field":"g","type":"nominal","title":null,"scale":{"domain":["1","2","3"],"paddingInner":0.086,"paddingOuter":0.32},"axis":{"labelAngle":0,"labelFont":"Lato","labelFontSize":13.5,"labelColor":"#111","domainColor":"#111","domainWidth":1.3,"ticks":false,"tickSize":0,"labelPadding":4}},"y":{"aggregate":"mean","field":"v","type":"quantitative","scale":{"domain":[0,20],"nice":false},"axis":null}}},
{"data":{"name":"fold"},"transform":[{"filter":"datum.g == '1' || datum.g == '2' || datum.g == '3'"}],"mark":{"type":"errorbar","extent":"stdev","ticks":true,"color":"black","thickness":1.3,"size":14},"encoding":{"x":{"field":"g","type":"nominal","title":null},"y":{"field":"v","type":"quantitative","axis":null}}},
{"data":{"name":"fold"},"transform":[{"filter":"datum.g == '1' || datum.g == '2' || datum.g == '3'"}],"mark":{"type":"point","filled":false,"color":"black","size":50,"strokeWidth":1.3,"opacity":1},"encoding":{"x":{"field":"g","type":"nominal","title":null},"xOffset":{"field":"rep","type":"nominal","scale":{"paddingOuter":0.6}},"y":{"field":"v","type":"quantitative","axis":null}}},
{"data":{"values":[{}]},"mark":{"type":"rule","color":"#444","strokeWidth":1.1},"encoding":{"x":{"datum":"1","bandPosition":0},"x2":{"datum":"3","bandPosition":1},"y":{"datum":-1.45,"axis":null}}},
{"data":{"values":[{}]},"mark":{"type":"rule","color":"#444","strokeWidth":1.1},"encoding":{"x":{"datum":"1","bandPosition":0},"y":{"datum":-1.45,"axis":null},"y2":{"datum":-0.95}}},
{"data":{"values":[{}]},"mark":{"type":"rule","color":"#444","strokeWidth":1.1},"encoding":{"x":{"datum":"3","bandPosition":1},"y":{"datum":-1.45,"axis":null},"y2":{"datum":-0.95}}},
{"data":{"values":[{}]},"mark":{"type":"text","text":["HCoV-HKU1 strain","human coronavirus"],"font":"Lato","fontSize":13,"lineHeight":12.5,"baseline":"top","align":"center","color":"#111"},"encoding":{"x":{"datum":"2"},"y":{"datum":-1.6,"axis":null}}}
]}
],"spacing":0,"bounds":"flush"}
]
}
